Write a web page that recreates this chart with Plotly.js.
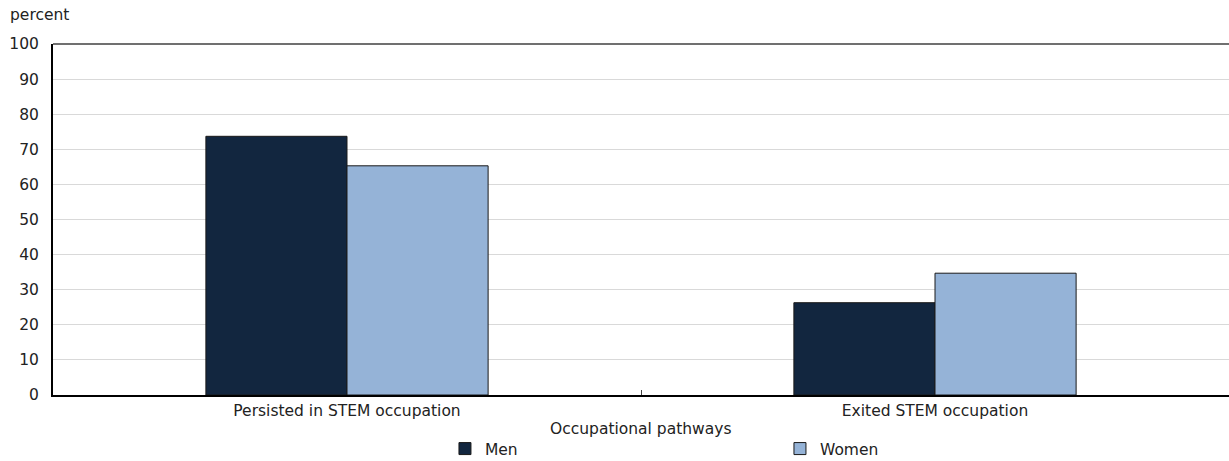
<!DOCTYPE html>
<html>
<head>
<meta charset="utf-8">
<script src="https://cdn.plot.ly/plotly-3.0.1.min.js"></script>
<style>html,body{margin:0;padding:0;background:#fff;}#chart{width:1229px;height:461px;}</style>
</head>
<body>
<div id="chart"></div>
<script>
const categories = ["Persisted in STEM occupation", "Exited STEM occupation"];
const men = [73.7, 26.3];
const women = [65.3, 34.7];
const seriesNames = ["Men", "Women"];
const yTicks = [0, 10, 20, 30, 40, 50, 60, 70, 80, 90, 100];
const xTitle = "Occupational pathways";
const yTitle = "percent";

const font = "DejaVu Sans, Verdana, sans-serif";
const fs = 15.5;
const traces = [
  {type: "bar", name: seriesNames[0], x: categories, y: men,
   marker: {color: "#12263f", line: {color: "#1a1a1a", width: 1}}, hoverinfo: "y"},
  {type: "bar", name: seriesNames[1], x: categories, y: women,
   marker: {color: "#95b3d7", line: {color: "#1a1a1a", width: 1}}, hoverinfo: "y"}
];
const layout = {
  width: 1229, height: 461,
  margin: {l: 53, r: 0, t: 44, b: 66, autoexpand: false},
  paper_bgcolor: "#fff", plot_bgcolor: "#fff",
  font: {family: font, size: fs, color: "#222"},
  barmode: "group", bargap: 0.52, bargroupgap: 0,
  showlegend: true,
  legend: {orientation: "h", xref: "paper", x: 0.3333, xanchor: "left",
           yref: "container", y: 12/461, yanchor: "middle",
           entrywidth: 290, entrywidthmode: "pixels", itemwidth: 30,
           font: {family: font, size: fs, color: "#222"}},
  xaxis: {type: "category", range: [-0.5, 1.5], showgrid: false, zeroline: false,
          showline: true, linecolor: "#000", linewidth: 2,
          ticks: "inside", tickson: "boundaries", ticklen: 5, tickcolor: "#444",
          tickfont: {family: font, size: fs, color: "#222"}},
  yaxis: {range: [0, 100], tickvals: yTicks, showgrid: true, gridcolor: "#d9d9d9", gridwidth: 1,
          zeroline: false, showline: true, linecolor: "#000", linewidth: 2,
          ticks: "", ticklabelstandoff: 9, tickfont: {family: font, size: fs, color: "#222"}},
  shapes: [{type: "line", xref: "paper", yref: "paper", x0: 0, x1: 1, y0: 1, y1: 1,
            line: {color: "#404040", width: 1.5}}],
  annotations: [
    {text: yTitle, xref: "paper", yref: "paper", x: -53/1176, y: 1 + 29/351,
     xanchor: "left", yanchor: "middle", showarrow: false, xshift: 8,
     font: {family: font, size: fs, color: "#222"}},
    {text: xTitle, xref: "paper", yref: "paper", x: 0.5, y: 0, yshift: -34,
     xanchor: "center", yanchor: "middle", showarrow: false,
     font: {family: font, size: fs, color: "#222"}}
  ]
};
Plotly.newPlot("chart", traces, layout, {displayModeBar: false, staticPlot: true});
</script>
</body>
</html>
